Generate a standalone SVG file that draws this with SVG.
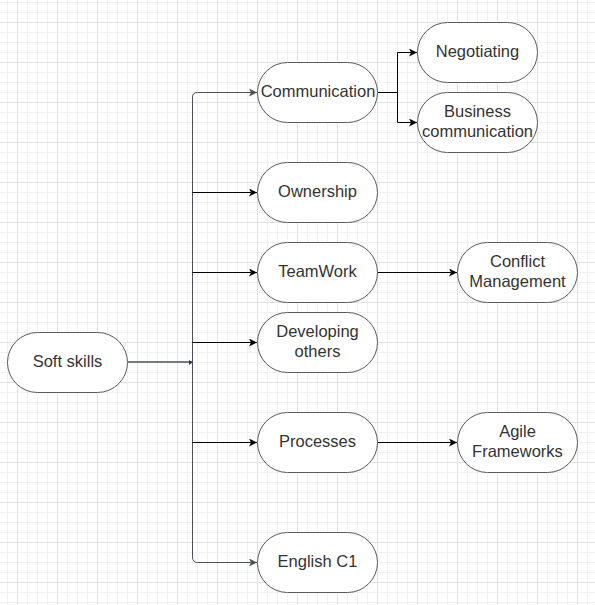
<svg xmlns="http://www.w3.org/2000/svg" width="595" height="605" viewBox="0 0 595 605">
<defs>
<pattern id="grid" patternUnits="userSpaceOnUse" x="17" y="22" width="40" height="40">
<path d="M10.5,0V40M20.5,0V40M30.5,0V40M0,10.5H40M0,20.5H40M0,30.5H40" stroke="#f1f1f1" stroke-width="1" fill="none"/>
<path d="M0.5,0V40M0,0.5H40" stroke="#e1e1e1" stroke-width="1" fill="none"/>
</pattern>
<marker id="ab" markerUnits="userSpaceOnUse" markerWidth="10" markerHeight="10" refX="8" refY="4" orient="auto">
<path d="M0,0L8,4L0,8L2,4Z" fill="#000"/>
</marker>
<marker id="ag" markerUnits="userSpaceOnUse" markerWidth="10" markerHeight="10" refX="8" refY="4" orient="auto">
<path d="M0,0L8,4L0,8L2,4Z" fill="#4d5057"/>
</marker>
<style>
.n rect{fill:#fff;stroke:#5a5a5a;stroke-width:1}
.n text{font-family:"Liberation Sans",Arial,sans-serif;font-size:16.5px;fill:#333;text-anchor:middle}
.e{fill:none;stroke:#000;stroke-width:1;marker-end:url(#ab)}
.g{fill:none;stroke:#4d5057;stroke-width:1;marker-end:url(#ag)}
</style>
</defs>
<rect width="595" height="605" fill="#fff"/>
<rect width="595" height="605" fill="url(#grid)"/>
<g id="connectors">
<path class="g" d="M127.5,362H192.5V97Q192.5,92.5 197.5,92.5H257"/>
<path class="g" d="M127.5,362H192.5V557Q192.5,562.5 197.5,562.5H257"/>
<path class="e" d="M192.5,192.5H257"/>
<path class="e" d="M192.5,272.5H257"/>
<path class="e" d="M192.5,342.5H257"/>
<path class="e" d="M192.5,442.5H257"/>
<path class="e" d="M377,92.5H397.5V52.5H417"/>
<path class="e" d="M377,92.5H397.5V122.5H417"/>
<path class="e" d="M377,272.5H457"/>
<path class="e" d="M377,442.5H457"/>
<path d="M189,360L192.5,362.5L189,365Z" fill="#333"/>
</g>
<g id="soft-skills" class="n"><rect x="7.5" y="332.5" width="120" height="60" rx="30"/><text x="67.5" y="366.5">Soft skills</text></g>
<g id="communication" class="n"><rect x="257.5" y="62.5" width="120" height="60" rx="30"/><text x="318" y="96.5">Communication</text></g>
<g id="ownership" class="n"><rect x="257.5" y="162.5" width="120" height="60" rx="30"/><text x="317.5" y="196.5">Ownership</text></g>
<g id="teamwork" class="n"><rect x="257.5" y="242.5" width="120" height="60" rx="30"/><text x="317.5" y="276.5">TeamWork</text></g>
<g id="developing-others" class="n"><rect x="257.5" y="312.5" width="120" height="60" rx="30"/><text x="317.5" y="336.5">Developing</text><text x="317.5" y="356.5">others</text></g>
<g id="processes" class="n"><rect x="257.5" y="412.5" width="120" height="60" rx="30"/><text x="317.5" y="446.5">Processes</text></g>
<g id="english-c1" class="n"><rect x="257.5" y="532.5" width="120" height="60" rx="30"/><text x="317.5" y="566.5">English C1</text></g>
<g id="negotiating" class="n"><rect x="417.5" y="22.5" width="120" height="60" rx="30"/><text x="477.5" y="56.5">Negotiating</text></g>
<g id="business-communication" class="n"><rect x="417.5" y="92.5" width="120" height="60" rx="30"/><text x="477.5" y="116.5">Business</text><text x="477.5" y="136.5">communication</text></g>
<g id="conflict-management" class="n"><rect x="457.5" y="242.5" width="120" height="60" rx="30"/><text x="517.5" y="266.5">Conflict</text><text x="517.5" y="286.5">Management</text></g>
<g id="agile-frameworks" class="n"><rect x="457.5" y="412.5" width="120" height="60" rx="30"/><text x="517.5" y="436.5">Agile</text><text x="517.5" y="456.5">Frameworks</text></g>
</svg>
